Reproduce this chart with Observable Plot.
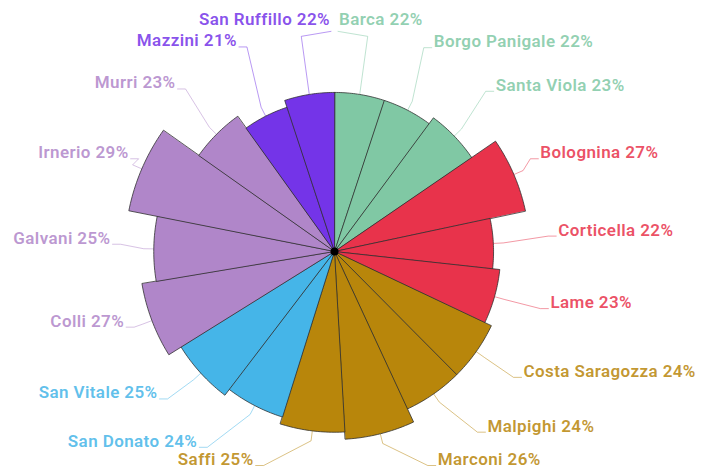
<!DOCTYPE html>
<html>
<head>
<meta charset="utf-8">
<script src="https://cdn.jsdelivr.net/npm/d3@7"></script>
<script src="https://cdn.jsdelivr.net/npm/@observablehq/plot@0.6"></script>
<style>
  html, body { margin: 0; padding: 0; background: #fff; }
  #chart { width: 704px; height: 470px; }
</style>
</head>
<body>
<div id="chart"></div>
<script>
// ---- data ----
const names = ["Barca", "Borgo Panigale", "Santa Viola", "Bolognina", "Corticella", "Lame",
  "Costa Saragozza", "Malpighi", "Marconi", "Saffi", "San Donato", "San Vitale",
  "Colli", "Galvani", "Irnerio", "Murri", "Mazzini", "San Ruffillo"];
const values = [22, 22, 23, 27, 22, 23, 24, 24, 26, 25, 24, 25, 27, 25, 29, 23, 21, 22];
const quartieri = ["Borgo Panigale-Reno", "Borgo Panigale-Reno", "Borgo Panigale-Reno",
  "Navile", "Navile", "Navile",
  "Porto-Saragozza", "Porto-Saragozza", "Porto-Saragozza", "Porto-Saragozza",
  "San Donato-San Vitale", "San Donato-San Vitale",
  "Santo Stefano", "Santo Stefano", "Santo Stefano", "Santo Stefano",
  "Savena", "Savena"];
const quartiereNames = ["Borgo Panigale-Reno", "Navile", "Porto-Saragozza", "San Donato-San Vitale", "Santo Stefano", "Savena"];
const quartiereColors = ["#80c8a4", "#e8334b", "#b8860b", "#45b5e8", "#b086c9", "#7434e8"];

// ---- layout ----
const W = 704, H = 470;
const cx = 334, cy = 251;     // centre in pixels
const k = 7.23;               // pixels per percentage point (radius)
const total = d3.sum(values); // angle is proportional to value too
const cum = d3.cumsum(values);
const angle0 = values.map((v, i) => (cum[i] - v) / total * 2 * Math.PI);
const angle1 = values.map((v, i) => cum[i] / total * 2 * Math.PI);

// wedge polygons (data units)
const wedges = [];
names.forEach((name, i) => {
  const v = values[i];
  const a0 = angle0[i], a1 = angle1[i];
  wedges.push({name, x: 0, y: 0, q: quartieri[i]});
  const segs = 24;
  for (let s = 0; s <= segs; s++) {
    const a = a0 + (a1 - a0) * s / segs;
    wedges.push({name, x: v * Math.sin(a), y: v * Math.cos(a), q: quartieri[i]});
  }
});

// label placement
const labels = names.map((name, i) => {
  const a = (angle0[i] + angle1[i]) / 2;
  const s = Math.sin(a), c = Math.cos(a);
  const sgn = s >= 0 ? 1 : -1;
  const cp = Math.max(0, c), cm = Math.max(0, -c);
  const dxp = sgn * (224 * Math.abs(s) - 40 * Math.pow(cp, 20) + 55 * Math.pow(cm, 4));
  const dyp = Math.min(-225 * c - 10, H - cy - 11);
  return {name, i, a, sgn, q: quartieri[i], text: `${name} ${values[i]}%`,
    x: dxp / k, y: -dyp / k, v: values[i], top: Math.pow(cp, 20) > 0.5};
});

// leader lines
const leaders = [];
labels.forEach(l => {
  const s = Math.sin(l.a), c = Math.cos(l.a);
  const r0 = l.v, r1 = l.v + 10 / k;
  const p0 = {x: r0 * s, y: r0 * c};
  leaders.push({name: l.name, q: l.q, ...p0});
  if (l.top) {
    // labels that sit right above the centre: up, then across under the text
    const yb = l.y - 12 / k;
    leaders.push({name: l.name, q: l.q, x: p0.x + l.sgn * 8 / k, y: yb - 5 / k});
    leaders.push({name: l.name, q: l.q, x: l.x - l.sgn * 1 / k, y: yb});
  } else {
    leaders.push({name: l.name, q: l.q, x: r1 * s, y: r1 * c});
    leaders.push({name: l.name, q: l.q, x: l.x - l.sgn * 10 / k, y: l.y - 6 / k});
    leaders.push({name: l.name, q: l.q, x: l.x - l.sgn * 2 / k, y: l.y - 6 / k});
  }
});

const right = labels.filter(l => l.sgn > 0);
const left = labels.filter(l => l.sgn < 0);

const chart = Plot.plot({
  width: W,
  height: H,
  margin: 0,
  x: {domain: [-cx / k, (W - cx) / k], axis: null},
  y: {domain: [-(H - cy) / k, cy / k], axis: null},
  color: {domain: quartiereNames, range: quartiereColors},
  style: {fontFamily: "Roboto, sans-serif", background: "#fff"},
  marks: [
    Plot.line(leaders, {x: "x", y: "y", z: "name", stroke: "q", strokeWidth: 1, strokeOpacity: 0.5}),
    Plot.line(wedges, {x: "x", y: "y", z: "name", fill: "q", stroke: "#2a2a2a",
      strokeWidth: 0.9, strokeOpacity: 0.85, curve: "linear-closed"}),
    Plot.dot([{x: 0, y: 0}], {x: "x", y: "y", r: 4, fill: "#000"}),
    Plot.text(right, {x: "x", y: "y", text: "text", fill: "q", textAnchor: "start",
      fontSize: 17, fontWeight: 600, fillOpacity: 0.85}),
    Plot.text(left, {x: "x", y: "y", text: "text", fill: "q", textAnchor: "end",
      fontSize: 17, fontWeight: 600, fillOpacity: 0.85})
  ]
});
chart.querySelectorAll("text").forEach(t => t.setAttribute("letter-spacing", "0.4"));
document.getElementById("chart").appendChild(chart);
</script>
</body>
</html>
